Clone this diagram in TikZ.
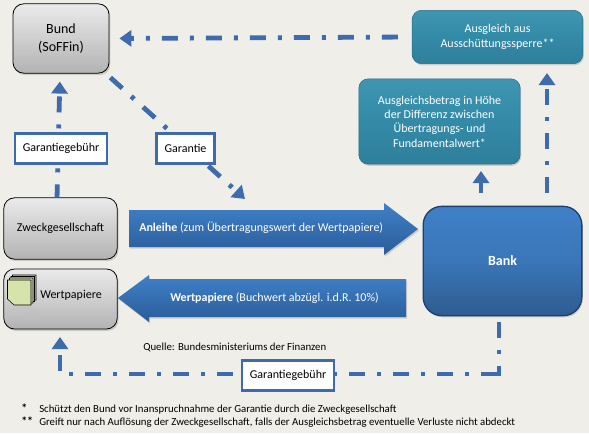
\documentclass[tikz,border=0pt]{standalone}
\usepackage{fontspec}
\setmainfont{Carlito}
\usetikzlibrary{arrows.meta,shadows}
\definecolor{bgcol}{HTML}{EFEEE9}
\definecolor{linecol}{HTML}{3E6BAC}
\definecolor{tealcol}{HTML}{338AA7}
\definecolor{tealtop}{HTML}{3F96B2}
\definecolor{tealbot}{HTML}{2F7F9B}
\definecolor{bluetop}{HTML}{3F80C8}
\definecolor{bluebot}{HTML}{2B5C98}
\definecolor{paper}{HTML}{D6E4AC}
\tikzset{
  grauBox/.style={draw=black, semithick, rounded corners=8pt, top color=white!92!black, bottom color=black!30, drop shadow={shadow xshift=1pt, shadow yshift=-1.5pt, opacity=0.3}, align=center, font=\fontsize{9pt}{11pt}\selectfont, inner sep=0pt},
  tealBox/.style={rounded corners=7pt, top color=tealtop, bottom color=tealbot, middle color=tealcol, draw=tealbot!85!black, drop shadow={shadow xshift=0.8pt, shadow yshift=-1.2pt, opacity=0.3}, text=white, align=center, font=\fontsize{9pt}{10.8pt}\selectfont, inner sep=0pt},
  labelBox/.style={draw=linecol, line width=2.2pt, fill=white, font=\fontsize{9pt}{10pt}\selectfont, inner sep=0pt},
  pfeil/.style={draw=linecol, line width=3.6pt, dash pattern=on 12pt off 9pt on 3pt off 9pt, -{Triangle[length=9pt,width=12pt]}},
  pfeilOhne/.style={draw=linecol, line width=3.6pt, dash pattern=on 12pt off 9pt on 3pt off 9pt},
  pfeilText/.style={text=white, font=\fontsize{9pt}{10pt}\selectfont, inner sep=0pt},
  fussnote/.style={font=\fontsize{8.1pt}{9pt}\selectfont, anchor=west, inner sep=0pt}
}
\begin{document}
\begin{tikzpicture}[x=0.75pt, y=-0.75pt, >=stealth]
  \useasboundingbox[fill=bgcol] (0,0) rectangle (589,433);

  % Kaesten
  \node[grauBox, minimum width=72pt, minimum height=52pt, font=\fontsize{10.5pt}{13pt}\selectfont] (bund) at (61,38.5) {Bund\\(SoFFin)};
  \node[grauBox, minimum width=85pt, minimum height=46pt] (zweck) at (60.5,228.5) {Zweckgesellschaft};
  \node[grauBox, minimum width=85pt, minimum height=45pt] (wert) at (60.5,299) {};
  \node[tealBox, minimum width=128pt, minimum height=40pt] (ausschuett) at (497.5,37) {Ausgleich aus\\Ausschüttungssperre**};
  \node[tealBox, minimum width=121pt, minimum height=64pt] (betrag) at (439.5,121.5) {Ausgleichsbetrag in Höhe\\der Differenz zwischen\\Übertragungs- und\\Fundamentalwert*};
  \node[draw=bluebot!70!black, line width=1pt, rounded corners=14pt, top color=bluetop, bottom color=bluetop!72!black, middle color=bluetop!92!black, drop shadow={shadow xshift=0.8pt, shadow yshift=-1.2pt, opacity=0.3}, minimum width=119pt, minimum height=82pt, text=white, font=\fontsize{10.5pt}{11pt}\selectfont\bfseries] (bank) at (502.5,261) {Bank};

  % Blockpfeile
  \shade[top color=bluetop, bottom color=bluebot, drop shadow={shadow xshift=0.8pt, shadow yshift=-1.2pt, opacity=0.3}] (129,210) -- (384,210) -- (384,203) -- (418,229) -- (384,255) -- (384,247) -- (129,247) -- cycle;
  \shade[top color=bluetop, bottom color=bluebot, drop shadow={shadow xshift=0.8pt, shadow yshift=-1.2pt, opacity=0.3}] (406,279) -- (149,279) -- (149,275) -- (118,298) -- (149,322) -- (149,317) -- (406,317) -- cycle;
  \node[pfeilText, anchor=west] (anleihe) at (139,228) {\textbf{Anleihe} (zum Übertragungswert der Wertpapiere)};
  \node[pfeilText, anchor=west] (papiere) at (170,298) {\textbf{Wertpapiere} (Buchwert abzügl. i.d.R. 10\%)};

  % Verbindungen
  \coordinate (eck1) at (499,376);
  \coordinate (eck2) at (497,374);
  \coordinate (eck3) at (60,374);
  \coordinate (spitzeA) at (245,199);
  \coordinate (spitzeB) at (60,337);
  \draw[pfeil, shorten <=10.5pt, shorten >=7.5pt] (ausschuett.west) -- (bund.east);
  \draw[pfeil, dash phase=2.25pt, shorten >=6pt] ([xshift=-2.6pt]zweck.north) -- ([xshift=-0.75pt]bund.south);
  \draw[pfeil] ([shift={(0.75pt,-3pt)}]bund.south east) -- (spitzeA);
  \draw[pfeil, solid] (481,193) -- (481,171);
  \draw[pfeil] (547,193) -- (547,73);
  \draw[pfeilOhne] ([yshift=-4.5pt]bank.south -| eck1) -- (eck1);
  \draw[pfeil] (eck2) -- (eck3) -- (spitzeB);

  % Beschriftung der Linien
  \node[labelBox, minimum width=69pt, minimum height=22pt] (gebuehrA) at (61,148.5) {Garantiegebühr};
  \node[labelBox, minimum width=43pt, minimum height=22pt] (garantie) at (185.5,148.5) {Garantie};
  \node[labelBox, minimum width=69pt, minimum height=22pt] (gebuehrB) at (288,375.5) {Garantiegebühr};

  % Symbol Wertpapiere
  \foreach \d in {5,3.5,2,0} {
    \draw[black, fill=paper] (7.5+\d,280-\d) -- (31+\d,280-\d) -- (31+\d,305-\d) -- (14+\d,305-\d) -- (7.5+\d,299-\d) -- cycle;
  }
  \draw[black!25] (7.5,318) -- (7.5,313) -- (14,308) -- (31,308) -- (31,318);
  \draw[black!25] (33,318) -- (33,308) (36,316) -- (36,308);
  \node[anchor=west, font=\fontsize{9pt}{10pt}\selectfont, inner sep=0pt] (wertText) at (40,295) {Wertpapiere};

  % Quelle und Fussnoten
  \node[font=\fontsize{8.1pt}{9pt}\selectfont, inner sep=0pt, anchor=west] (quelle) at (143,347) {Quelle: Bundesministeriums der Finanzen};
  \node[fussnote, font=\fontsize{9pt}{9pt}\selectfont\bfseries] (sternA) at (21,408) {*};
  \node[fussnote, font=\fontsize{9pt}{9pt}\selectfont\bfseries] (sternB) at (21,421) {**};
  \node[fussnote] (fussA) at (39,410) {Schützt den Bund vor Inanspruchnahme der Garantie durch die Zweckgesellschaft};
  \node[fussnote] (fussB) at (39,423) {Greift nur nach Auflösung der Zweckgesellschaft, falls der Ausgleichsbetrag eventuelle Verluste nicht abdeckt};
\end{tikzpicture}
\end{document}
